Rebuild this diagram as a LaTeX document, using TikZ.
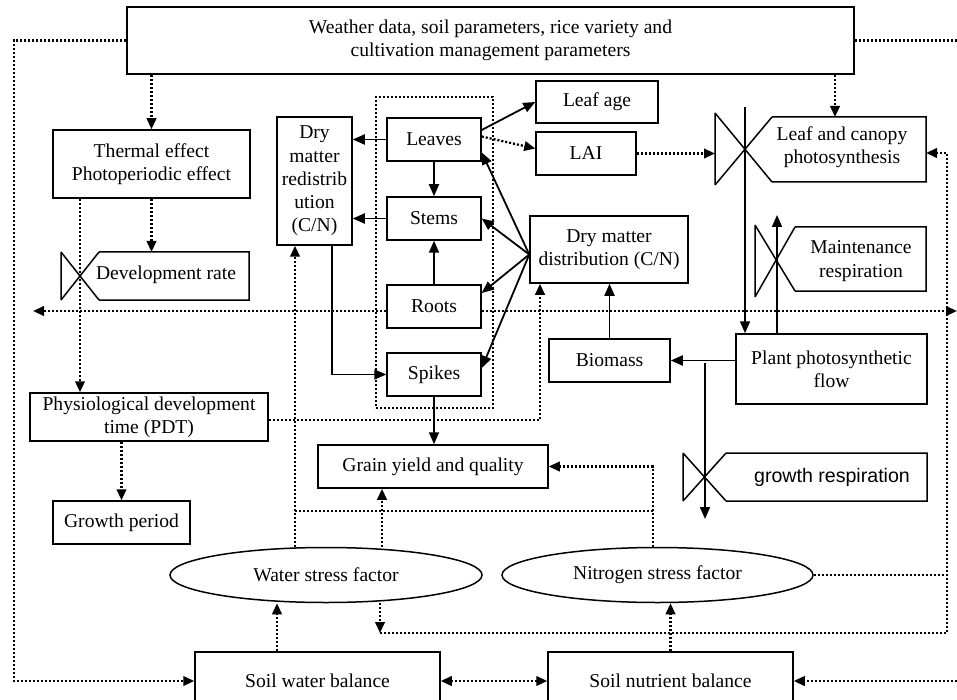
\documentclass[tikz,border=0pt]{standalone}
\usepackage{fontspec}
\setmainfont{Liberation Serif}
\newfontfamily\arialfont{Liberation Sans}
\usetikzlibrary{arrows.meta,shapes.geometric}
\newcommand\myfs{\fontsize{19.6}{23.3}\selectfont}
\begin{document}
\begin{tikzpicture}[x=1pt,y=-1pt,
  box/.style={draw, line width=1.5pt, inner sep=0pt, align=center, font=\myfs},
  sz/.style 2 args={minimum width=#1pt, minimum height=#2pt},
  lbl/.style={inner sep=0pt, align=center, font=\myfs},
  valve/.style={line width=1.5pt, line join=miter},
  flow/.style={line width=1.8pt, -{Triangle[length=12pt,width=10pt]}},
  dots/.style={line width=2.3pt, dash pattern=on 2.1pt off 1.9pt},
  dotarr/.style={dots, -{Triangle[length=11pt,width=9.5pt]}},
  dotboth/.style={dots, {Triangle[length=11pt,width=9.5pt]}-{Triangle[length=11pt,width=9.5pt]}},
]
\useasboundingbox (0,0) rectangle (957,700);
\clip (0,0) rectangle (957,700);
\fill[white] (0,0) rectangle (957,700);

% ---------- boxes ----------
\node[box, sz={727}{67}] (top) at (490.5,40.5) {Weather data, soil parameters, rice variety and\\cultivation management parameters};
\node[box, sz={197}{68}] (thermal) at (151.5,164) {Thermal effect\\Photoperiodic effect};
\node[box, sz={238}{48}] (pdt) at (149,417) {Physiological development\\time (PDT)};
\node[box, sz={137}{43}] (growth) at (121.5,522.5) {Growth period};
\node[box, sz={75}{128}] (redis) at (314.5,181) {Dry\\matter\\redistrib\\ution\\(C/N)};
\node[draw, dots, sz={117}{311}] (group) at (434.5,252.5) {};
\node[box, sz={94}{43}] (leaves) at (434,139.5) {Leaves};
\node[box, sz={94}{43}] (stems) at (434,218.5) {Stems};
\node[box, sz={94}{43}] (roots) at (434,306.5) {Roots};
\node[box, sz={94}{43}] (spikes) at (434,374.5) {Spikes};
\node[box, sz={122}{42}] (leafage) at (597,102) {Leaf age};
\node[box, sz={100}{43}] (lai) at (586,153.5) {LAI};
\node[box, sz={158}{67}] (dmd) at (609,249.5) {Dry matter\\distribution (C/N)};
\node[box, sz={191}{70}] (plant) at (831.5,369) {Plant photosynthetic\\flow};
\node[box, sz={121}{43}] (biomass) at (609.5,360.5) {Biomass};
\node[box, sz={230}{43}] (grain) at (433,466.5) {Grain yield and quality};
\node[box, ellipse, sz={312}{55}] (water) at (326,575) {Water stress factor};
\node[box, ellipse, sz={311}{55}] (nitro) at (657.5,575) {Nitrogen stress factor};
\node[box, sz={245}{58}] (soilw) at (317.5,681) {Soil water balance};
\node[box, sz={245}{58}] (soiln) at (670.5,681) {Soil nutrient balance};

% ---------- valve shapes ----------
% development rate
\coordinate (drA) at (61,252); \coordinate (drB) at (61,300);
\coordinate (drTL) at (99,252); \coordinate (drTR) at (249,252);
\coordinate (drBR) at (249,300); \coordinate (drBL) at (99,300);
\coordinate (drX) at (80,276);
\draw[valve] (drA) -- (drB) (drA) -- (drBL) (drB) -- (drTL) (drTL) -- (drTR) -- (drBR) -- (drBL);
\node[lbl] (devrate) at (166,275) {Development rate};
% leaf and canopy photosynthesis
\coordinate (lcA) at (715,113); \coordinate (lcB) at (715,185);
\coordinate (lcTL) at (772,117); \coordinate (lcTR) at (926,117);
\coordinate (lcBR) at (926,182); \coordinate (lcBL) at (772,182);
\coordinate (lcR) at (926,153); \coordinate (lcIn) at (835,117);
\draw[valve] (lcA) -- (lcB) (lcA) -- (lcBL) (lcB) -- (lcTL) (lcTL) -- (lcTR) -- (lcBR) -- (lcBL);
\node[lbl] (canopy) at (842,147) {Leaf and canopy\\photosynthesis};
% maintenance respiration
\coordinate (mrA) at (755,225); \coordinate (mrB) at (755,297);
\coordinate (mrTL) at (795,227); \coordinate (mrTR) at (926,227);
\coordinate (mrBR) at (926,291); \coordinate (mrBL) at (795,291);
\draw[valve] (mrA) -- (mrB) (mrA) -- (mrBL) (mrB) -- (mrTL) (mrTL) -- (mrTR) -- (mrBR) -- (mrBL);
\node[lbl] (maint) at (861,261) {Maintenance\\respiration};
% growth respiration
\coordinate (grA) at (683,453); \coordinate (grB) at (683,501);
\coordinate (grTL) at (726,453); \coordinate (grTR) at (927,453);
\coordinate (grBR) at (927,501); \coordinate (grBL) at (726,501);
\draw[valve] (grA) -- (grB) (grA) -- (grBL) (grB) -- (grTL) (grTL) -- (grTR) -- (grBR) -- (grBL);
\node[lbl, font=\arialfont\myfs] (growthresp) at (832,477) {growth respiration};

% ---------- solid flows ----------
\draw[flow] (leaves.west) -- (leaves.west -| redis.east);
\draw[flow] (stems.west) -- (stems.west -| redis.east);
\draw[flow] (leaves.south) -- (stems.north);
\draw[flow] (roots.north) -- (stems.south);
\draw[flow] ([xshift=17.5pt]redis.south) |- (spikes.west);
\draw[flow] (spikes.south) -- (spikes.south |- grain.north);
\draw[flow] ([yshift=9.5pt]leaves.east) -- (leafage.west);
\coordinate (dsrc) at ([yshift=-5pt]dmd.west);
\draw[flow] (dsrc) -- ([yshift=-13pt]leaves.east);
\draw[flow] (dsrc) -- (stems.east);
\draw[flow] (dsrc) -- ([yshift=13.5pt]roots.east);
\draw[flow] (dsrc) -- ([yshift=6.5pt]spikes.east);
\draw[flow] (biomass.north) -- (biomass.north |- dmd.south);
\draw[flow] (plant.west |- biomass.east) -- (biomass.east);
\coordinate (photoTop) at (745,107);
\draw[flow] (photoTop) -- (photoTop |- plant.north);
\coordinate (mrTop) at (777,215);
\draw[flow] (mrTop |- plant.north) -- (mrTop);
\coordinate (grTop) at (705,363); \coordinate (grEnd) at (705,519);
\draw[flow] (grTop) -- (grEnd);

% ---------- dotted links ----------
\draw[dotarr] (top.west) -| (14,681) -- (soilw.west);
\coordinate (topR) at (957,40.5);
\draw[dots] (top.east) -- (topR);
\draw[dotarr] (top.south -| thermal.north) -- (thermal.north);
\draw[dotarr] (top.south -| lcIn) -- (lcIn);
\draw[dotarr] (thermal.south) -- (thermal.south |- drTL);
\draw[dotarr] (thermal.south -| drX) -- (drX |- pdt.north);
\draw[dotarr] (pdt.south -| growth.north) -- (growth.north);
\draw[dotarr] ([yshift=-3pt]pdt.east) -| ([xshift=-69pt]dmd.south);
\coordinate (leftEnd) at (33,311); \coordinate (rightEnd) at (957,311);
\draw[dotarr] ([yshift=-4.5pt]roots.west) -- (leftEnd);
\draw[dotarr] ([yshift=-4.5pt]roots.east) -- (rightEnd);
\draw[dotarr] ([yshift=3pt]leaves.east) -- ([yshift=5pt]lai.west);
\draw[dotarr] (lai.east) -- (lcA |- lai.east);
\draw[dotarr] ([xshift=-31pt]water.north) -- ([xshift=-19.5pt]redis.south);
\draw[dotarr] ([xshift=56pt]water.north) -- ([xshift=-51pt]grain.south);
\coordinate (hL) at (295,511); \coordinate (hR) at (653,511);
\draw[dots] (hL) -- (hR);
\draw[dotarr] ([xshift=-4.5pt]nitro.north) |- (grain.east);
\coordinate (busL) at (380,633); \coordinate (busC) at (947,633);
\draw[dotarr] ([xshift=54pt]water.south) -- (busL);
\draw[dotarr] (busL) -- (busC) |- (lcR);
\draw[dots] (nitro.east) -- (nitro.east -| busC);
\draw[dotarr] ([xshift=-40.5pt]soilw.north) -- ([xshift=-40.5pt]soilw.north |- water.south);
\draw[dotarr] (soiln.north) -- (soiln.north |- nitro.south);
\draw[dotboth] (soilw.east) -- (soiln.west);
\coordinate (rIn) at (957,681);
\draw[dotarr] (rIn) -- (soiln.east);
\end{tikzpicture}
\end{document}
